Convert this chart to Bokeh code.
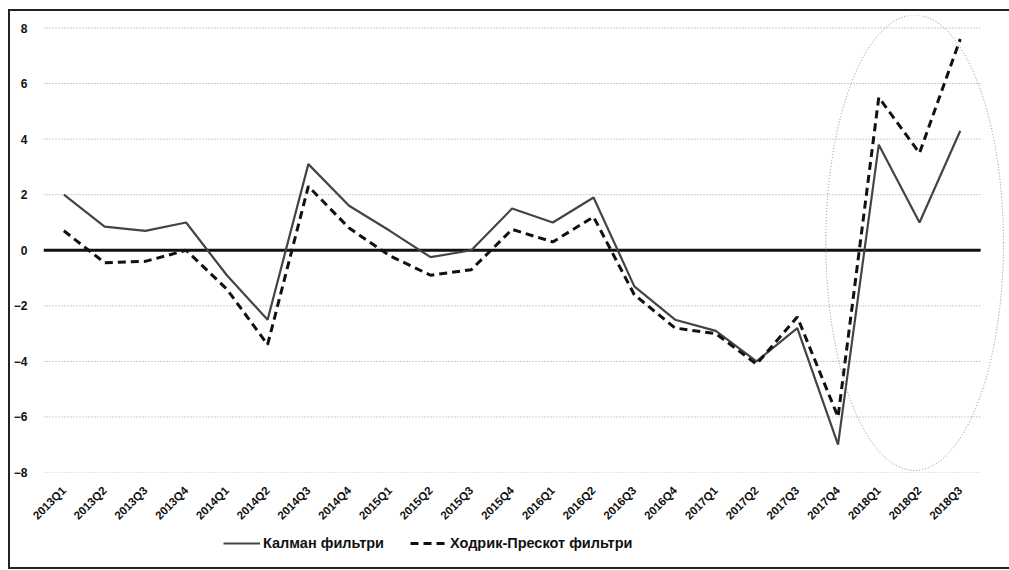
import math
from bokeh.plotting import figure
from bokeh.layouts import column
from bokeh.models import Range1d, FixedTicker, Legend, LegendItem, ColumnDataSource
from bokeh.embed import file_html
from bokeh.resources import INLINE

quarters = ["2013Q1", "2013Q2", "2013Q3", "2013Q4",
            "2014Q1", "2014Q2", "2014Q3", "2014Q4",
            "2015Q1", "2015Q2", "2015Q3", "2015Q4",
            "2016Q1", "2016Q2", "2016Q3", "2016Q4",
            "2017Q1", "2017Q2", "2017Q3", "2017Q4",
            "2018Q1", "2018Q2", "2018Q3"]
kalman = [2.0, 0.85, 0.7, 1.0, -0.9, -2.5, 3.1, 1.6, 0.7, -0.25, 0.0, 1.5,
          1.0, 1.9, -1.3, -2.5, -2.9, -4.0, -2.8, -7.0, 3.8, 1.0, 4.3]
hp = [0.7, -0.45, -0.4, 0.0, -1.4, -3.4, 2.3, 0.8, -0.2, -0.9, -0.7, 0.75,
      0.3, 1.2, -1.6, -2.8, -3.0, -4.1, -2.4, -6.0, 5.5, 3.5, 7.6]
y_ticks = [-8, -6, -4, -2, 0, 2, 4, 6, 8]
series_names = ["Калман фильтри", "Ходрик-Прескот фильтри"]

# highlight ellipse (annotation) in axis units
highlight = dict(x=20.88, y=0.27, w=4.36, h=16.39)

KALMAN_STYLE = dict(line_color="#444444", line_width=2.2)
HP_STYLE = dict(line_color="#111111", line_width=3, line_dash="8 5")
FONT = "Liberation Sans"

idx = list(range(len(quarters)))
src = ColumnDataSource(dict(x=idx, kalman=kalman, hp=hp))

p = figure(width=999, height=519, output_backend="svg", toolbar_location=None,
           x_range=Range1d(-0.5, 23.11), y_range=Range1d(-8, 8.45),
           min_border_left=32, min_border_right=4, min_border_top=4,
           min_border_bottom=58)
p.outline_line_color = None
p.background_fill_color = "white"
p.border_fill_color = "white"
p.xgrid.visible = False
p.ygrid.visible = False

# dotted horizontal gridlines
gsrc = ColumnDataSource(dict(y=[t for t in y_ticks if t != 0]))
p.segment(x0=-0.5, x1=len(quarters) - 0.5, y0="y", y1="y", source=gsrc,
          line_color="#9a9a9a", line_width=1, line_dash="1 2")
# zero line
p.segment(x0=-0.5, x1=len(quarters) - 0.5, y0=0, y1=0,
          line_color="#111111", line_width=3)

p.line("x", "kalman", source=src, **KALMAN_STYLE)
p.line("x", "hp", source=src, **HP_STYLE)

p.ellipse(x=highlight["x"], y=highlight["y"], width=highlight["w"],
          height=highlight["h"], fill_alpha=0, line_color="#8a8a8a",
          line_width=1, line_dash="1 2")

# axes
xa = p.xaxis[0]
xa.ticker = FixedTicker(ticks=idx)
xa.major_label_overrides = {i: q for i, q in zip(idx, quarters)}
xa.major_label_orientation = math.pi / 4
xa.axis_line_color = None
xa.major_tick_line_color = None
xa.minor_tick_line_color = None
xa.major_tick_out = 0
xa.major_tick_in = 0
xa.minor_tick_out = 0
xa.major_label_standoff = 16
xa.major_label_text_font = FONT
xa.major_label_text_font_style = "bold"
xa.major_label_text_font_size = "11.5px"
xa.major_label_text_color = "#111111"

ya = p.yaxis[0]
ya.ticker = FixedTicker(ticks=y_ticks)
ya.axis_line_color = None
ya.major_tick_line_color = None
ya.minor_tick_line_color = None
ya.major_tick_out = 0
ya.major_tick_in = 0
ya.minor_tick_out = 0
ya.major_label_standoff = 16
ya.major_label_text_font = FONT
ya.major_label_text_font_style = "bold"
ya.major_label_text_font_size = "12px"
ya.major_label_text_color = "#111111"

# legend strip below the chart
lf = figure(width=999, height=37, output_backend="svg", toolbar_location=None,
            x_range=Range1d(0, 1), y_range=Range1d(0, 1),
            min_border=0)
lf.axis.visible = False
lf.grid.visible = False
lf.outline_line_color = None
lf.border_fill_color = "white"
lf.background_fill_color = "white"
# legend swatches (kept outside the visible range; only their styles are shown)
lr1 = lf.line(x=[-3, -2], y=[-3, -3], **KALMAN_STYLE)
lr2 = lf.line(x=[-3, -2], y=[-3, -3], **HP_STYLE)
legend = Legend(items=[LegendItem(label=series_names[0], renderers=[lr1]),
                       LegendItem(label=series_names[1], renderers=[lr2])],
                orientation="horizontal", location=(180, 14),
                glyph_width=37, glyph_height=20, label_height=20,
                label_standoff=3, spacing=26, padding=0, margin=0,
                border_line_alpha=0, background_fill_alpha=0,
                label_text_font=FONT,
                label_text_font_style="bold",
                label_text_font_size="14.5px", label_text_color="#111111")
lf.add_layout(legend)

layout = column(p, lf, spacing=0)
layout.margin = (11, 0, 0, 10)
layout.styles = {"outline": "2px solid #222",
                 "clip-path": "inset(-3px 0px -3px -3px)"}

open("out.html", "w").write(file_html(layout, INLINE))
